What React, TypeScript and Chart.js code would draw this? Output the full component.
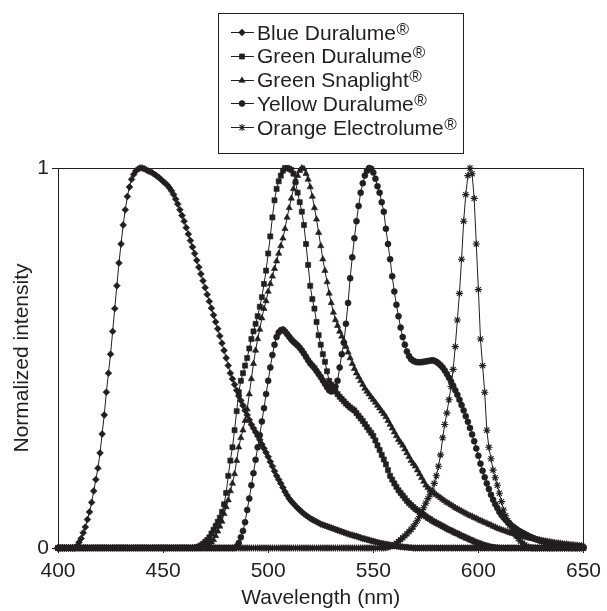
import React, { useEffect, useRef } from "react";
import { Chart, registerables } from "chart.js";
import { drawPoint } from "chart.js/helpers";

Chart.register(...registerables);

const wavelengths = [
  400, 401, 402, 403, 404, 405, 406, 407, 408, 409,
  410, 411, 412, 413, 414, 415, 416, 417, 418, 419,
  420, 421, 422, 423, 424, 425, 426, 427, 428, 429,
  430, 431, 432, 433, 434, 435, 436, 437, 438, 439,
  440, 441, 442, 443, 444, 445, 446, 447, 448, 449,
  450, 451, 452, 453, 454, 455, 456, 457, 458, 459,
  460, 461, 462, 463, 464, 465, 466, 467, 468, 469,
  470, 471, 472, 473, 474, 475, 476, 477, 478, 479,
  480, 481, 482, 483, 484, 485, 486, 487, 488, 489,
  490, 491, 492, 493, 494, 495, 496, 497, 498, 499,
  500, 501, 502, 503, 504, 505, 506, 507, 508, 509,
  510, 511, 512, 513, 514, 515, 516, 517, 518, 519,
  520, 521, 522, 523, 524, 525, 526, 527, 528, 529,
  530, 531, 532, 533, 534, 535, 536, 537, 538, 539,
  540, 541, 542, 543, 544, 545, 546, 547, 548, 549,
  550, 551, 552, 553, 554, 555, 556, 557, 558, 559,
  560, 561, 562, 563, 564, 565, 566, 567, 568, 569,
  570, 571, 572, 573, 574, 575, 576, 577, 578, 579,
  580, 581, 582, 583, 584, 585, 586, 587, 588, 589,
  590, 591, 592, 593, 594, 595, 596, 597, 598, 599,
  600, 601, 602, 603, 604, 605, 606, 607, 608, 609,
  610, 611, 612, 613, 614, 615, 616, 617, 618, 619,
  620, 621, 622, 623, 624, 625, 626, 627, 628, 629,
  630, 631, 632, 633, 634, 635, 636, 637, 638, 639,
  640, 641, 642, 643, 644, 645, 646, 647, 648, 649,
  650,
];

const blueDuralume = [
  0, 0, 0, 0, 0, 0, 0, 0, 0, 0.005,
  0.015, 0.025, 0.04, 0.055, 0.075, 0.095, 0.12, 0.15, 0.18, 0.21,
  0.25, 0.3, 0.35, 0.41, 0.46, 0.51, 0.57, 0.63, 0.69, 0.75,
  0.8, 0.85, 0.89, 0.925, 0.95, 0.97, 0.983, 0.992, 0.997, 1,
  1, 0.998, 0.995, 0.992, 0.99, 0.987, 0.983, 0.979, 0.975, 0.97,
  0.965, 0.96, 0.955, 0.948, 0.94, 0.93, 0.918, 0.905, 0.89, 0.875,
  0.86, 0.843, 0.826, 0.809, 0.792, 0.775, 0.757, 0.739, 0.721, 0.703,
  0.685, 0.667, 0.649, 0.631, 0.613, 0.595, 0.577, 0.558, 0.539, 0.52,
  0.5, 0.48, 0.46, 0.445, 0.43, 0.415, 0.4, 0.388, 0.375, 0.362,
  0.35, 0.337, 0.325, 0.315, 0.305, 0.295, 0.285, 0.273, 0.262, 0.251,
  0.24, 0.227, 0.215, 0.202, 0.19, 0.18, 0.17, 0.159, 0.148, 0.139,
  0.13, 0.123, 0.117, 0.111, 0.105, 0.1, 0.095, 0.09, 0.086, 0.082,
  0.078, 0.075, 0.072, 0.069, 0.066, 0.063, 0.061, 0.059, 0.057, 0.055,
  0.053, 0.051, 0.049, 0.047, 0.045, 0.043, 0.041, 0.039, 0.037, 0.035,
  0.034, 0.032, 0.031, 0.029, 0.027, 0.025, 0.024, 0.022, 0.021, 0.019,
  0.018, 0.016, 0.015, 0.013, 0.012, 0.011, 0.01, 0.009, 0.008, 0.007,
  0.006, 0.005, 0.004, 0.003, 0.003, 0.002, 0.002, 0.001, 0.001, 0,
  0, 0, 0, 0, 0, 0, 0, 0, 0, 0,
  0, 0, 0, 0, 0, 0, 0, 0, 0, 0,
  0, 0, 0, 0, 0, 0, 0, 0, 0, 0,
  0, 0, 0, 0, 0, 0, 0, 0, 0, 0,
  0, 0, 0, 0, 0, 0, 0, 0, 0, 0,
  0, 0, 0, 0, 0, 0, 0, 0, 0, 0,
  0, 0, 0, 0, 0, 0, 0, 0, 0, 0,
  0, 0, 0, 0, 0, 0, 0, 0, 0, 0,
  0,
];

const greenDuralume = [
  0, 0, 0, 0, 0, 0, 0, 0, 0, 0,
  0, 0, 0, 0, 0, 0, 0, 0, 0, 0,
  0, 0, 0, 0, 0, 0, 0, 0, 0, 0,
  0, 0, 0, 0, 0, 0, 0, 0, 0, 0,
  0, 0, 0, 0, 0, 0, 0, 0, 0, 0,
  0, 0, 0, 0, 0, 0, 0, 0, 0, 0,
  0, 0, 0, 0, 0, 0, 0.002, 0.004, 0.007, 0.011,
  0.016, 0.021, 0.028, 0.038, 0.048, 0.058, 0.069, 0.08, 0.095, 0.115,
  0.145, 0.19, 0.23, 0.265, 0.31, 0.36, 0.41, 0.44, 0.46, 0.48,
  0.5, 0.525, 0.55, 0.57, 0.59, 0.61, 0.635, 0.66, 0.695, 0.73,
  0.775, 0.82, 0.87, 0.915, 0.945, 0.965, 0.98, 0.993, 1, 1,
  0.998, 0.995, 0.985, 0.963, 0.935, 0.91, 0.885, 0.85, 0.8, 0.745,
  0.69, 0.655, 0.63, 0.595, 0.56, 0.535, 0.51, 0.49, 0.465, 0.44,
  0.43, 0.42, 0.412, 0.405, 0.398, 0.392, 0.386, 0.38, 0.375, 0.37,
  0.366, 0.362, 0.355, 0.348, 0.341, 0.334, 0.326, 0.318, 0.31, 0.303,
  0.295, 0.283, 0.27, 0.258, 0.245, 0.233, 0.22, 0.205, 0.19, 0.18,
  0.17, 0.161, 0.152, 0.145, 0.138, 0.131, 0.124, 0.118, 0.113, 0.108,
  0.103, 0.099, 0.095, 0.091, 0.087, 0.083, 0.079, 0.076, 0.072, 0.069,
  0.066, 0.063, 0.06, 0.057, 0.054, 0.051, 0.048, 0.046, 0.043, 0.04,
  0.038, 0.035, 0.032, 0.03, 0.027, 0.025, 0.022, 0.02, 0.017, 0.015,
  0.013, 0.011, 0.009, 0.007, 0.006, 0.004, 0.003, 0.002, 0.001, 0.001,
  0, 0, 0, 0, 0, 0, 0, 0, 0, 0,
  0, 0, 0, 0, 0, 0, 0, 0, 0, 0,
  0, 0, 0, 0, 0, 0, 0, 0, 0, 0,
  0, 0, 0, 0, 0, 0, 0, 0, 0, 0,
  0,
];

const greenSnaplight = [
  0, 0, 0, 0, 0, 0, 0, 0, 0, 0,
  0, 0, 0, 0, 0, 0, 0, 0, 0, 0,
  0, 0, 0, 0, 0, 0, 0, 0, 0, 0,
  0, 0, 0, 0, 0, 0, 0, 0, 0, 0,
  0, 0, 0, 0, 0, 0, 0, 0, 0, 0,
  0, 0, 0, 0, 0, 0, 0, 0, 0, 0,
  0, 0, 0, 0, 0, 0, 0, 0, 0, 0,
  0.003, 0.006, 0.01, 0.015, 0.021, 0.032, 0.044, 0.057, 0.07, 0.09,
  0.108, 0.126, 0.15, 0.17, 0.195, 0.23, 0.265, 0.29, 0.31, 0.335,
  0.365, 0.405, 0.445, 0.485, 0.52, 0.55, 0.575, 0.605, 0.63, 0.65,
  0.675, 0.695, 0.715, 0.735, 0.755, 0.775, 0.795, 0.815, 0.84, 0.87,
  0.895, 0.92, 0.945, 0.965, 0.98, 0.993, 1, 0.998, 0.985, 0.97,
  0.95, 0.925, 0.895, 0.865, 0.83, 0.795, 0.76, 0.73, 0.7, 0.67,
  0.645, 0.62, 0.6, 0.585, 0.57, 0.557, 0.545, 0.53, 0.515, 0.5,
  0.485, 0.472, 0.46, 0.45, 0.44, 0.43, 0.42, 0.412, 0.405, 0.397,
  0.39, 0.383, 0.375, 0.368, 0.36, 0.353, 0.345, 0.335, 0.325, 0.315,
  0.305, 0.295, 0.285, 0.278, 0.27, 0.26, 0.25, 0.24, 0.23, 0.222,
  0.215, 0.205, 0.195, 0.185, 0.175, 0.165, 0.159, 0.153, 0.148, 0.144,
  0.14, 0.136, 0.132, 0.128, 0.124, 0.12, 0.117, 0.113, 0.11, 0.106,
  0.103, 0.1, 0.097, 0.094, 0.091, 0.088, 0.085, 0.083, 0.08, 0.078,
  0.075, 0.072, 0.07, 0.067, 0.065, 0.062, 0.06, 0.057, 0.055, 0.052,
  0.05, 0.048, 0.046, 0.044, 0.042, 0.04, 0.038, 0.037, 0.035, 0.034,
  0.032, 0.031, 0.029, 0.028, 0.026, 0.025, 0.024, 0.023, 0.022, 0.021,
  0.02, 0.019, 0.018, 0.017, 0.016, 0.015, 0.014, 0.013, 0.013, 0.012,
  0.011, 0.01, 0.01, 0.009, 0.008, 0.008, 0.007, 0.007, 0.006, 0.006,
  0.005,
];

const yellowDuralume = [
  0, 0, 0, 0, 0, 0, 0, 0, 0, 0,
  0, 0, 0, 0, 0, 0, 0, 0, 0, 0,
  0, 0, 0, 0, 0, 0, 0, 0, 0, 0,
  0, 0, 0, 0, 0, 0, 0, 0, 0, 0,
  0, 0, 0, 0, 0, 0, 0, 0, 0, 0,
  0, 0, 0, 0, 0, 0, 0, 0, 0, 0,
  0, 0, 0, 0, 0, 0, 0, 0, 0, 0,
  0, 0, 0, 0, 0, 0, 0, 0, 0, 0,
  0, 0, 0, 0, 0, 0.004, 0.013, 0.028, 0.045, 0.068,
  0.1, 0.13, 0.165, 0.197, 0.232, 0.265, 0.297, 0.333, 0.368, 0.405,
  0.44, 0.475, 0.508, 0.535, 0.555, 0.567, 0.573, 0.575, 0.57, 0.563,
  0.556, 0.549, 0.543, 0.538, 0.533, 0.527, 0.52, 0.512, 0.503, 0.494,
  0.486, 0.48, 0.474, 0.466, 0.458, 0.45, 0.441, 0.432, 0.423, 0.415,
  0.412, 0.415, 0.425, 0.44, 0.475, 0.51, 0.54, 0.59, 0.645, 0.71,
  0.765, 0.815, 0.86, 0.9, 0.935, 0.96, 0.98, 0.993, 1, 0.998,
  0.988, 0.972, 0.952, 0.935, 0.91, 0.885, 0.84, 0.8, 0.76, 0.715,
  0.675, 0.64, 0.61, 0.58, 0.555, 0.535, 0.517, 0.505, 0.497, 0.493,
  0.49, 0.489, 0.489, 0.489, 0.49, 0.491, 0.492, 0.493, 0.494, 0.493,
  0.49, 0.486, 0.481, 0.475, 0.467, 0.458, 0.448, 0.438, 0.427, 0.415,
  0.403, 0.39, 0.376, 0.362, 0.347, 0.332, 0.316, 0.299, 0.281, 0.262,
  0.243, 0.222, 0.203, 0.186, 0.17, 0.155, 0.14, 0.127, 0.115, 0.105,
  0.095, 0.087, 0.08, 0.074, 0.068, 0.063, 0.058, 0.054, 0.05, 0.046,
  0.043, 0.04, 0.037, 0.034, 0.031, 0.029, 0.026, 0.024, 0.022, 0.02,
  0.018, 0.017, 0.015, 0.014, 0.013, 0.012, 0.011, 0.01, 0.009, 0.008,
  0.008, 0.007, 0.006, 0.006, 0.005, 0.005, 0.004, 0.004, 0.003, 0.003,
  0.002,
];

const orangeElectrolume = [
  0, 0, 0, 0, 0, 0, 0, 0, 0, 0,
  0, 0, 0, 0, 0, 0, 0, 0, 0, 0,
  0, 0, 0, 0, 0, 0, 0, 0, 0, 0,
  0, 0, 0, 0, 0, 0, 0, 0, 0, 0,
  0, 0, 0, 0, 0, 0, 0, 0, 0, 0,
  0, 0, 0, 0, 0, 0, 0, 0, 0, 0,
  0, 0, 0, 0, 0, 0, 0, 0, 0, 0,
  0, 0, 0, 0, 0, 0, 0, 0, 0, 0,
  0, 0, 0, 0, 0, 0, 0, 0, 0, 0,
  0, 0, 0, 0, 0, 0, 0, 0, 0, 0,
  0, 0, 0, 0, 0, 0, 0, 0, 0, 0,
  0, 0, 0, 0, 0, 0, 0, 0, 0, 0,
  0, 0, 0, 0, 0, 0, 0, 0, 0, 0,
  0, 0, 0, 0, 0, 0, 0, 0, 0, 0,
  0, 0, 0, 0, 0, 0, 0, 0, 0, 0,
  0, 0, 0, 0, 0, 0, 0.001, 0.002, 0.004, 0.006,
  0.009, 0.013, 0.017, 0.022, 0.027, 0.032, 0.037, 0.043, 0.049, 0.056,
  0.064, 0.073, 0.083, 0.094, 0.106, 0.118, 0.13, 0.14, 0.152, 0.17,
  0.19, 0.215, 0.245, 0.29, 0.325, 0.355, 0.39, 0.425, 0.47, 0.53,
  0.6, 0.67, 0.76, 0.86, 0.93, 0.98, 1, 0.985, 0.92, 0.8,
  0.68, 0.55, 0.48, 0.41, 0.31, 0.265, 0.235, 0.205, 0.185, 0.165,
  0.144, 0.122, 0.1, 0.085, 0.072, 0.06, 0.05, 0.04, 0.032, 0.025,
  0.018, 0.013, 0.008, 0.005, 0.002, 0.001, 0, 0, 0, 0,
  0, 0, 0, 0, 0, 0, 0, 0, 0, 0,
  0, 0, 0, 0, 0, 0, 0, 0, 0, 0,
  0,
];

const seriesNames = [
  "Blue Duralume",
  "Green Duralume",
  "Green Snaplight",
  "Yellow Duralume",
  "Orange Electrolume",
];
const registeredMark = "®";
const xTicks = [400, 450, 500, 550, 600, 650];
const yTicks = [0, 1];

const FONT = '"Liberation Sans", Arial, Helvetica, sans-serif';
const INK = "#231f20";

type Style = { pointStyle: string; radius: number; border: number };
const markerStyles: Style[] = [
  { pointStyle: "rectRot", radius: 3.4, border: 0.6 },
  { pointStyle: "rect", radius: 3.6, border: 0.6 },
  { pointStyle: "triangle", radius: 3.6, border: 0.6 },
  { pointStyle: "circle", radius: 3.0, border: 0.6 },
  { pointStyle: "star", radius: 3.6, border: 1.1 },
];

const legendBoxPlugin = {
  id: "legendBoxFrame",
  beforeDatasetsDraw(chart: any) {
    const { ctx, chartArea: a } = chart;
    ctx.save();
    ctx.strokeStyle = INK;
    ctx.lineWidth = 1;
    ctx.strokeRect(
      Math.round(a.left) + 0.5,
      Math.round(a.top) + 0.5,
      Math.round(a.right - a.left),
      Math.round(a.bottom - a.top)
    );
    ctx.restore();
  },
  afterDraw(chart: any) {
    const { ctx } = chart;
    ctx.save();
    ctx.strokeStyle = INK;
    ctx.lineWidth = 1;
    ctx.strokeRect(218.5, 13.5, 245, 140);
    const rowTop = 32;
    const rowStep = 23.8;
    chart.data.datasets.forEach((ds: any, i: number) => {
      const y = rowTop + i * rowStep;
      ctx.strokeStyle = INK;
      ctx.lineWidth = 1;
      ctx.beginPath();
      ctx.moveTo(231, Math.round(y) + 0.5);
      ctx.lineTo(254, Math.round(y) + 0.5);
      ctx.stroke();
      ctx.fillStyle = INK;
      ctx.lineWidth = ds.pointBorderWidth;
      drawPoint(
        ctx,
        {
          pointStyle: ds.pointStyle,
          radius: ds.pointRadius,
          rotation: 0,
          borderWidth: ds.pointBorderWidth,
        },
        242,
        Math.round(y) + 0.5
      );
      ctx.fillStyle = INK;
      ctx.textBaseline = "alphabetic";
      ctx.textAlign = "left";
      ctx.font = `21px ${FONT}`;
      const base = y + 7.5;
      const name = seriesNames[i];
      ctx.fillText(name, 257, base);
      const w = ctx.measureText(name).width;
      ctx.font = `17px ${FONT}`;
      ctx.fillText(registeredMark, 257 + w + 0.5, base - 5);
    });
    ctx.restore();
  },
};

const allSeries = [
  blueDuralume,
  greenDuralume,
  greenSnaplight,
  yellowDuralume,
  orangeElectrolume,
];

export default function App() {
  const canvasRef = useRef<HTMLCanvasElement | null>(null);

  useEffect(() => {
    const canvas = canvasRef.current;
    if (!canvas) return;
    const datasets = allSeries.map((values, i) => ({
      label: seriesNames[i] + registeredMark,
      data: wavelengths.map((x, j) => ({ x, y: values[j] })),
      order: i,
      borderColor: INK,
      borderWidth: 1,
      backgroundColor: INK,
      pointStyle: markerStyles[i].pointStyle,
      pointRadius: markerStyles[i].radius,
      pointBackgroundColor: INK,
      pointBorderColor: INK,
      pointBorderWidth: markerStyles[i].border,
      pointHoverRadius: markerStyles[i].radius,
      tension: 0,
      clip: false as any,
      fill: false,
    }));

    const chart = new Chart(canvas, {
      type: "line",
      data: { datasets },
      options: {
        animation: false,
        responsive: false,
        maintainAspectRatio: false,
        layout: { padding: { top: 168, right: 19, left: 0, bottom: 0 } },
        plugins: {
          legend: { display: false },
          tooltip: { enabled: false },
        },
        scales: {
          x: {
            type: "linear",
            min: 400,
            max: 650,
            afterBuildTicks: (s: any) => {
              s.ticks = xTicks.map((v) => ({ value: v }));
            },
            afterFit: (s: any) => {
              s.height = 63;
            },
            ticks: {
              color: INK,
              padding: 6,
              maxRotation: 0,
              font: { family: FONT, size: 21 },
              callback: (v: any) => String(v),
            },
            grid: {
              display: true,
              drawOnChartArea: false,
              drawTicks: true,
              tickLength: 5,
              color: INK,
            },
            border: { display: true, color: INK },
            title: {
              display: true,
              text: "Wavelength (nm)",
              color: INK,
              font: { family: FONT, size: 21 },
              padding: { top: 8, bottom: 0 },
            },
          },
          y: {
            type: "linear",
            min: 0,
            max: 1,
            afterBuildTicks: (s: any) => {
              s.ticks = yTicks.map((v) => ({ value: v }));
            },
            afterFit: (s: any) => {
              s.width = 58;
            },
            ticks: {
              color: INK,
              padding: 3,
              font: { family: FONT, size: 21 },
              callback: (v: any) => String(v),
            },
            grid: {
              display: true,
              drawOnChartArea: false,
              drawTicks: true,
              tickLength: 6,
              color: INK,
            },
            border: { display: true, color: INK },
            title: {
              display: true,
              text: "Normalized intensity",
              color: INK,
              font: { family: FONT, size: 21 },
              padding: { top: 10, bottom: 0 },
            },
          },
        },
      },
      plugins: [legendBoxPlugin],
    } as any);

    return () => {
      chart.destroy();
    };
  }, []);

  return (
    <div
      style={{
        position: "absolute",
        left: 0,
        top: 0,
        width: 607,
        height: 611,
        background: "#fff",
      }}
    >
      <canvas
        ref={canvasRef}
        width={607}
        height={611}
        style={{ display: "block", width: 607, height: 611 }}
      />
    </div>
  );
}
